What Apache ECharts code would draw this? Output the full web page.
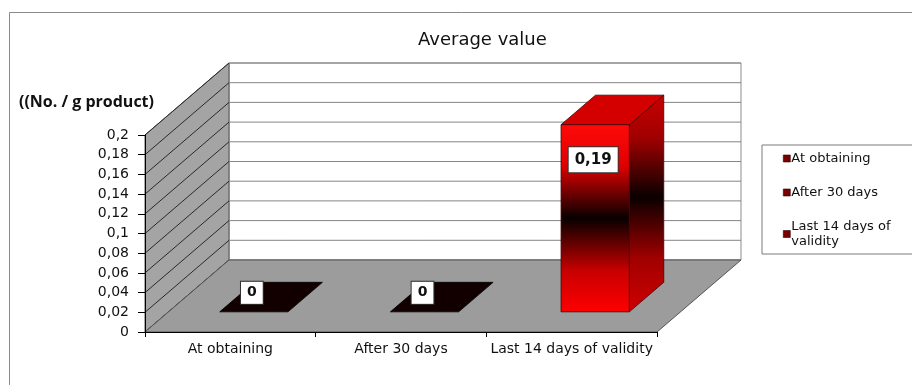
<!DOCTYPE html>
<html>
<head>
<meta charset="utf-8">
<script src="https://cdn.jsdelivr.net/npm/echarts@6/dist/echarts.min.js"></script>
<style>
html,body{margin:0;padding:0;background:#fff;}
#chart{width:912px;height:385px;}
</style>
</head>
<body>
<div id="chart"></div>
<script>
const categories = ['At obtaining', 'After 30 days', 'Last 14 days of validity'];
const values = [0, 0, 0.19];
const yTicks = [0, 0.02, 0.04, 0.06, 0.08, 0.1, 0.12, 0.14, 0.16, 0.18, 0.2];
const legendLabels = ['At obtaining', 'After 30 days', 'Last 14 days of\nvalidity'];
const chartTitle = 'Average value';
const unitLabel = '((No. / g product)';

const DX = 84, DY = -72;        // depth offset of the 3D box
const F1 = 0.28, F2 = 0.69;     // bar depth span (fractions of depth)
const BAR_W = 0.4;              // bar width as fraction of band
const FONT = '"DejaVu Sans", "Liberation Sans", Arial, sans-serif';

function fmt(v) { return String(+v.toFixed(2)).replace('.', ','); }

function renderFrame(params, api) {
  const cs = params.coordSys;
  const x0 = cs.x, y0 = cs.y, w = cs.width, h = cs.height;
  const x1 = x0 + w, yb = y0 + h;
  const children = [];
  children.push({ type: 'rect', shape: { x: x0 + DX, y: y0 + DY, width: w, height: h },
    style: { fill: '#ffffff', stroke: '#8c8c8c', lineWidth: 1 } });
  children.push({ type: 'polygon', shape: { points: [[x0, yb], [x0, y0], [x0 + DX, y0 + DY], [x0 + DX, yb + DY]] },
    style: { fill: '#a4a4a4', stroke: '#555', lineWidth: 1 } });
  yTicks.forEach(function (t) {
    const y = api.coord([0, t])[1];
    children.push({ type: 'line', shape: { x1: x0 + DX, y1: y + DY, x2: x1 + DX, y2: y + DY },
      style: { stroke: '#858585', lineWidth: 1 } });
    children.push({ type: 'line', shape: { x1: x0, y1: y, x2: x0 + DX, y2: y + DY },
      style: { stroke: '#2a2a2a', lineWidth: 1 } });
  });
  children.push({ type: 'polygon', shape: { points: [[x0, yb], [x1, yb], [x1 + DX, yb + DY], [x0 + DX, yb + DY]] },
    style: { fill: '#9c9c9c', stroke: '#555', lineWidth: 1 } });
  return { type: 'group', children: children, silent: true };
}

function renderBar(params, api) {
  const i = api.value(0), v = api.value(1);
  const base = api.coord([i, 0]);
  const top = api.coord([i, v]);
  const band = api.size([1, 0])[0];
  const w = band * BAR_W;
  const ox1 = DX * F1, oy1 = DY * F1;
  const ddx = DX * (F2 - F1), ddy = DY * (F2 - F1);
  const xL = base[0] - w / 2 + ox1, xR = xL + w;
  const yB = base[1] + oy1, yT = top[1] + oy1;
  const children = [];
  if (v > 0) {
    children.push({ type: 'polygon',
      shape: { points: [[xR, yB], [xR, yT], [xR + ddx, yT + ddy], [xR + ddx, yB + ddy]] },
      style: { fill: new echarts.graphic.LinearGradient(0, 0, 0, 1, [
        { offset: 0, color: '#c80000' }, { offset: 0.2, color: '#a00000' },
        { offset: 0.47, color: '#0a0000' }, { offset: 0.75, color: '#a00000' },
        { offset: 1, color: '#d00000' }]), stroke: '#400000', lineWidth: 0.8 } });
    children.push({ type: 'polygon',
      shape: { points: [[xL, yT], [xR, yT], [xR + ddx, yT + ddy], [xL + ddx, yT + ddy]] },
      style: { fill: '#d40000', stroke: '#400000', lineWidth: 0.8 } });
    children.push({ type: 'rect', shape: { x: xL, y: yT, width: w, height: yB - yT },
      style: { fill: new echarts.graphic.LinearGradient(0, 0, 0, 1, [
        { offset: 0, color: '#ff0a0a' }, { offset: 0.22, color: '#e00000' },
        { offset: 0.5, color: '#080000' }, { offset: 0.78, color: '#c80000' },
        { offset: 1, color: '#ff0000' }]), stroke: '#400000', lineWidth: 0.8 } });
  } else {
    children.push({ type: 'polygon',
      shape: { points: [[xL, yT], [xR, yT], [xR + ddx, yT + ddy], [xL + ddx, yT + ddy]] },
      style: { fill: '#120000', stroke: '#000', lineWidth: 0.8 } });
  }
  const cx = base[0] + ox1;
  const ly = v > 0 ? yT + 35 : yT - 19;
  const lx = cx - 2;
  children.push({ type: 'text', style: {
    x: lx, y: ly, text: fmt(v), align: 'center', verticalAlign: 'middle',
    font: 'bold ' + (v > 0 ? 15 : 14) + 'px ' + FONT, fill: '#111',
    backgroundColor: '#ffffff', borderColor: '#333', borderWidth: 1,
    padding: v > 0 ? [5, 6, 5, 6] : [4, 6, 4, 6] } });
  return { type: 'group', children: children };
}

const series = [{
  type: 'custom', name: '__frame', renderItem: renderFrame, data: [[0, 0]],
  encode: { x: 0, y: 1 }, z: 1, silent: true
}].concat(categories.map(function (c, i) {
  return { type: 'custom', name: c, renderItem: renderBar, data: [[i, values[i]]],
    encode: { x: 0, y: 1 }, z: 3, itemStyle: { color: '#7a0000' } };
}));

const chart = echarts.init(document.getElementById('chart'));
chart.setOption({
  backgroundColor: '#ffffff',
  animation: false,
  title: [
    { text: chartTitle, left: 418, top: 31, padding: 0,
      textStyle: { fontFamily: FONT, fontSize: 18, fontWeight: 'normal', color: '#111' } },
    { text: unitLabel, left: 19, top: 94, padding: 0,
      textStyle: { fontFamily: '"Open Sans", "DejaVu Sans", sans-serif', fontSize: 16, fontWeight: 'bold', color: '#111' } }
  ],
  graphic: [{ type: 'rect', shape: { x: 9.5, y: 12.5, width: 1000, height: 1000 },
    style: { fill: 'none', stroke: '#8a8a8a', lineWidth: 1 }, silent: true, z: 0 }],
  legend: {
    data: categories, orient: 'vertical', left: 762, top: 145,
    padding: [6, 40, 5, 21], itemGap: 19, itemWidth: 7, itemHeight: 7, icon: 'rect',
    backgroundColor: '#fff', borderColor: '#7a7a7a', borderWidth: 1, borderRadius: 0,
    itemStyle: { color: '#7a0000', borderColor: '#300000', borderWidth: 0.6 },
    formatter: function (name) { return legendLabels[categories.indexOf(name)]; },
    textStyle: { fontFamily: FONT, fontSize: 13, color: '#111', lineHeight: 15, padding: [0, 0, 0, -4] },
    selectedMode: false
  },
  grid: { left: 145, right: 255, top: 135, bottom: 53, containLabel: false },
  xAxis: {
    type: 'category', data: categories, z: 10,
    axisLine: { lineStyle: { color: '#000', width: 1 } },
    axisTick: { show: true, length: 5, lineStyle: { color: '#000' } },
    axisLabel: { fontFamily: FONT, fontSize: 14, color: '#111', margin: 10, interval: 0 },
    splitLine: { show: false }
  },
  yAxis: {
    type: 'value', min: 0, max: 0.2, interval: 0.02, z: 10,
    axisLine: { show: true, lineStyle: { color: '#000', width: 1 } },
    axisTick: { show: true, length: 7, lineStyle: { color: '#000' } },
    axisLabel: { fontFamily: FONT, fontSize: 14, color: '#111', margin: 16, formatter: fmt },
    splitLine: { show: false }
  },
  series: series
});
</script>
</body>
</html>
